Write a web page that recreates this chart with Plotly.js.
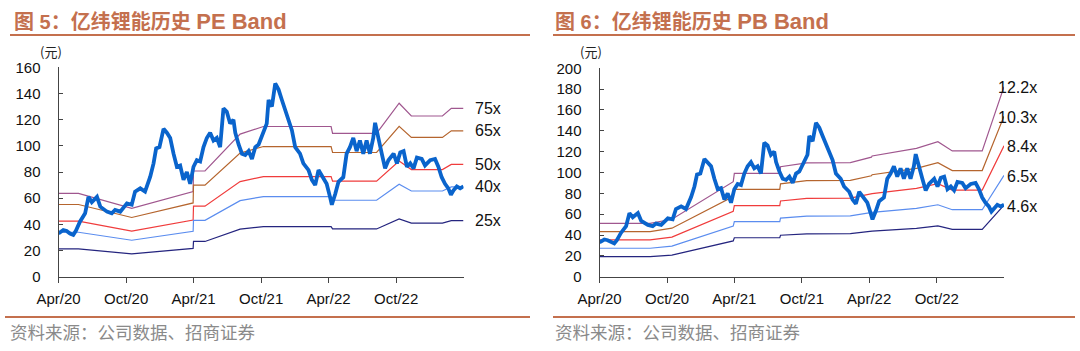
<!DOCTYPE html>
<html><head><meta charset="utf-8">
<script src="https://cdn.plot.ly/plotly-3.0.1.min.js"></script>
<style>html,body{margin:0;padding:0;background:#fff}#chart{width:1080px;height:351px}</style>
</head><body><div id="chart"></div>
<script>
// Stock price (元)
const priceDates = ['2020-04-01','2020-04-14','2020-04-23','2020-05-02','2020-05-11','2020-05-18','2020-05-29','2020-06-12','2020-06-21','2020-06-30','2020-07-14','2020-07-23','2020-08-10','2020-08-23','2020-09-01','2020-09-15','2020-10-03','2020-10-16','2020-10-25','2020-11-08','2020-11-21','2020-12-05','2020-12-14','2020-12-21','2020-12-30','2021-01-10','2021-01-19','2021-01-28','2021-02-06','2021-02-15','2021-02-24','2021-03-05','2021-03-14','2021-03-23','2021-04-01','2021-04-10','2021-04-19','2021-04-28','2021-05-07','2021-05-16','2021-05-25','2021-06-03','2021-06-12','2021-06-21','2021-06-30','2021-07-09','2021-07-18','2021-07-23','2021-08-01','2021-08-10','2021-08-19','2021-08-28','2021-09-06','2021-09-15','2021-09-24','2021-10-07','2021-10-16','2021-10-21','2021-10-30','2021-11-08','2021-11-17','2021-11-26','2021-12-10','2021-12-23','2022-01-01','2022-01-14','2022-01-23','2022-02-06','2022-02-15','2022-02-24','2022-03-05','2022-03-18','2022-03-27','2022-04-05','2022-04-10','2022-04-19','2022-04-28','2022-05-11','2022-05-20','2022-05-29','2022-06-07','2022-06-16','2022-06-25','2022-07-04','2022-07-13','2022-07-22','2022-07-31','2022-08-05','2022-08-14','2022-08-23','2022-09-01','2022-09-10','2022-09-24','2022-10-03','2022-10-12','2022-10-21','2022-10-30','2022-11-08','2022-11-17','2022-11-26','2022-12-09','2022-12-18','2023-01-01','2023-01-14','2023-01-23','2023-02-01','2023-02-10','2023-02-19','2023-02-26','2023-03-05','2023-03-14','2023-03-23','2023-04-01'];
const priceValues = [33,35.7,35,33,32,35,42,48.4,61,57,61,53.5,49.7,48.4,51,49.7,56,55,65,67.5,65,76.4,86.6,98,99,113,110,106,94,84,85,74,80,71,84,89,88,99,106,110,104,106,99,128.6,126,117,120,110,101,94,93,96,90,99,101,111,117,135,130,147.7,143,135,122,112,99,94,86.6,81.5,74,70,81.5,76,71,61,55,63,72.5,76,94,99,106,96,104,94,104,94,106,117.6,104,94,82.8,89,94,86.6,95,96,84,86.6,82.8,91,90,85,89,90,84,76,71,67.5,62.5,66,69,67.5,69];

// EPS basis for PE band
const epsDates = ['2020-04-01','2020-05-25','2020-10-16','2021-03-31','2021-04-01','2021-05-02','2021-08-05','2021-10-07','2022-04-08','2022-04-12','2022-08-09','2022-10-09','2022-11-11','2023-02-03','2023-02-27','2023-04-01'];
const epsValues = [0.849,0.849,0.696,0.867,1.077,1.077,1.453,1.530,1.530,1.460,1.460,1.767,1.637,1.637,1.715,1.715];
const peMultiples = [75,65,50,40,25];
const peLabels = ['75x','65x','50x','40x','25x'];

// BVPS basis for PB band
const bvpsDates = ['2020-04-01','2020-08-16','2020-10-14','2021-03-29','2021-04-01','2021-08-02','2021-08-04','2021-10-14','2022-02-09','2022-04-07','2022-04-09','2022-08-07','2022-10-04','2022-11-12','2023-02-01','2023-04-01'];
const bvpsValues = [4.20,4.20,4.52,7.47,8.13,8.13,8.65,8.95,8.98,9.40,9.50,10.10,10.62,9.89,9.89,14.95];
const pbMultiples = [12.2,10.3,8.4,6.5,4.6];
const pbLabels = ['12.2x','10.3x','8.4x','6.5x','4.6x'];

const xTickVals = ['2020-04-01','2020-10-01','2021-04-01','2021-10-01','2022-04-01','2022-10-01'];
const xTickText = ['Apr/20','Oct/20','Apr/21','Oct/21','Apr/22','Oct/22'];
const titleCn = ['图 5：亿纬锂能历史','图 6：亿纬锂能历史'];
const titleEn = ['PE Band','PB Band'];
const sourceText = '资料来源：公司数据、招商证券';
const unitText = '(元)';

const bandColors = ['#a0578f','#b5652e','#f03c3c','#5b8def','#25257f'];
const priceColor = '#0a64cc';
const accent = '#c4704e';
const tickFont = {family:'Liberation Sans, Arial, sans-serif', size:15, color:'#111'};

const traces = [];
const annotations = [];
function addBands(basisDates, basisVals, mults, labels, xa, ya, labelOpts){
  mults.forEach((m,i)=>{
    const ys = basisVals.map(v=>v*m);
    traces.push({x:basisDates, y:ys, type:'scatter', mode:'lines', xaxis:xa, yaxis:ya,
      line:{color:bandColors[i], width:1.2}, hoverinfo:'skip', showlegend:false});
    annotations.push({x:basisDates[basisDates.length-1], y:ys[ys.length-1], xref:xa, yref:ya,
      text:labels[i], showarrow:false, xanchor:labelOpts.anchor, xshift:labelOpts.shift, yshift:labelOpts.yshift,
      font:{family:'Liberation Sans, Arial, sans-serif', size:16, color:'#111'}});
  });
  traces.push({x:priceDates, y:priceValues, type:'scatter', mode:'lines', xaxis:xa, yaxis:ya,
    line:{color:priceColor, width:3.8}, hoverinfo:'skip', showlegend:false});
}
addBands(epsDates, epsValues, peMultiples, peLabels, 'x', 'y', {anchor:'left', shift:9, yshift:0});
addBands(bvpsDates, bvpsValues, pbMultiples, pbLabels, 'x2', 'y2', {anchor:'right', shift:35, yshift:-1});

function xAxis(domain, anchor){
  return {domain:domain, anchor:anchor, type:'date', range:['2020-04-01','2023-04-01'],
    tickvals:xTickVals, ticktext:xTickText, ticks:'outside', ticklen:5, tickcolor:'#444',
    showline:true, linecolor:'#444', linewidth:1, showgrid:false, zeroline:false,
    tickfont:tickFont, ticklabelstandoff:3, fixedrange:true};
}
function yAxis(domain, anchor, max){
  return {domain:domain, anchor:anchor, range:[0,max], dtick:20, ticks:'inside', ticklen:4, tickcolor:'#444',
    showline:true, linecolor:'#444', linewidth:1, showgrid:false, zeroline:false,
    tickfont:tickFont, ticklabelstandoff:14, fixedrange:true};
}

const W=1080, H=351;
const px = v=>v/W, py = v=>1-v/H;
const cjk = 'Liberation Sans, Noto Sans CJK SC, sans-serif';
[[12,0],[553,1]].forEach(([x,i])=>{
  annotations.push({xref:'paper', yref:'paper', x:px(x), y:py(21), xanchor:'left', yanchor:'middle',
    text:'<b>'+titleCn[i]+' <span style="font-size:22px">'+titleEn[i]+'</span></b>', showarrow:false,
    font:{family:cjk, size:20, color:accent}});
});
[[38,unitText],[578,unitText]].forEach(([x,t])=>{
  annotations.push({xref:'paper', yref:'paper', x:px(x), y:py(51), xanchor:'left', yanchor:'middle',
    text:t, showarrow:false, font:{family:'Noto Sans CJK SC, sans-serif', size:13, color:'#222'}});
});
[[8,sourceText],[553,sourceText]].forEach(([x,t])=>{
  annotations.push({xref:'paper', yref:'paper', x:px(x), y:py(331), xanchor:'left', yanchor:'middle',
    text:t, showarrow:false, font:{family:'Noto Sans CJK SC, sans-serif', size:17.5, color:'#8a8a8a'}});
});
const shapes = [
  {type:'line', xref:'paper', yref:'paper', x0:px(10), x1:px(530), y0:py(35), y1:py(35), line:{color:accent, width:2}},
  {type:'line', xref:'paper', yref:'paper', x0:px(553), x1:px(1075), y0:py(35), y1:py(35), line:{color:accent, width:2}},
  {type:'line', xref:'paper', yref:'paper', x0:px(5), x1:px(530), y0:py(317), y1:py(317), line:{color:accent, width:2}},
  {type:'line', xref:'paper', yref:'paper', x0:px(553), x1:px(1075), y0:py(317), y1:py(317), line:{color:accent, width:2}}
];

const layout = {
  width:W, height:H, margin:{l:0,r:0,t:0,b:0}, paper_bgcolor:'#fff', plot_bgcolor:'rgba(0,0,0,0)',
  showlegend:false, hovermode:false,
  xaxis: xAxis([px(58.5), px(463.5)], 'y'),
  yaxis: yAxis([1-276.7/H, 1-67.3/H], 'x', 160),
  xaxis2: xAxis([px(599.5), px(1004)], 'y2'),
  yaxis2: yAxis([1-276.7/H, 1-68.3/H], 'x2', 200),
  annotations:annotations, shapes:shapes
};
Plotly.newPlot('chart', traces, layout, {staticPlot:true, displayModeBar:false});
</script></body></html>
